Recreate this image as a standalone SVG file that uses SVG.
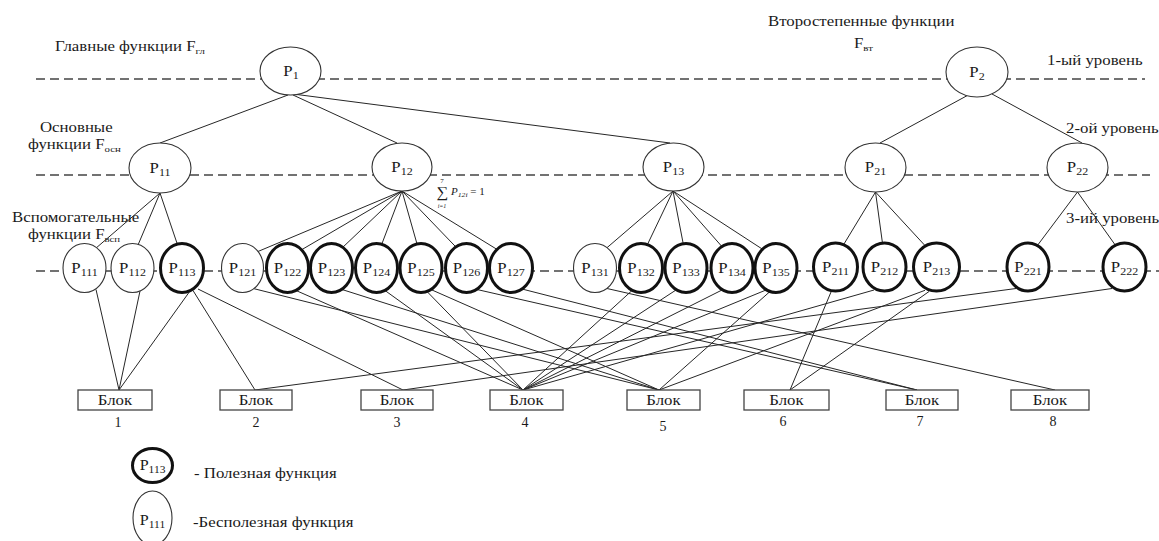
<svg xmlns="http://www.w3.org/2000/svg" width="1159" height="541" viewBox="0 0 1159 541">
<style>
  text { font-family: "Liberation Serif", "Times New Roman", serif; fill: #1a1a1a; }
  .lvl { stroke: #444; stroke-width: 1.3; stroke-dasharray: 9 5; fill: none; }
  .edge { stroke: #262626; stroke-width: 1; fill: none; }
  .n { fill: #fff; stroke: #333; stroke-width: 1.1; }
  .u { fill: #fff; stroke: #111; stroke-width: 3; }
  .lbl { font-size: 14px; text-anchor: middle; }
  .sub { font-size: 10px; }
  .cap { font-size: 14px; }
  .fsub { font-size: 9px; }
  .blk { fill: #fff; stroke: #444; stroke-width: 1.3; }
  .bt { font-size: 14px; text-anchor: middle; }
  .num { font-size: 14px; text-anchor: middle; }
  .math { font-size: 10px; font-style: italic; }
</style>

<!-- level separators -->
<g id="levels">
  <line class="lvl" x1="36" y1="79" x2="1145" y2="79"/>
  <line class="lvl" x1="36" y1="175" x2="1150" y2="175"/>
  <line class="lvl" x1="36" y1="271" x2="1159" y2="271"/>
</g>

<!-- captions -->
<g id="captions">
  <text class="cap" transform="translate(55,51) scale(1.2,1)">Главные функции F<tspan class="fsub" dy="3">гл</tspan></text>
  <text class="cap" transform="translate(768,26) scale(1.2,1)">Второстепенные функции</text>
  <text class="cap" transform="translate(854,48) scale(1.2,1)">F<tspan class="fsub" dy="3">вт</tspan></text>
  <text class="cap" transform="translate(1047,65) scale(1.2,1)">1-ый уровень</text>
  <text class="cap" transform="translate(1066,133) scale(1.2,1)">2-ой уровень</text>
  <text class="cap" transform="translate(1066,223) scale(1.2,1)">3-ий уровень</text>
  <text class="cap" transform="translate(40,132) scale(1.2,1)">Основные</text>
  <text class="cap" transform="translate(28,149) scale(1.2,1)">функции F<tspan class="fsub" dy="3">осн</tspan></text>
  <text class="cap" transform="translate(12,222) scale(1.2,1)">Вспомогательные</text>
  <text class="cap" transform="translate(28,239) scale(1.2,1)">функции F<tspan class="fsub" dy="3">всп</tspan></text>
</g>

<!-- connectors -->
<g id="connectors" class="edge">
  <!-- level 1 to level 2 -->
  <line x1="288" y1="95" x2="160" y2="143"/>
  <line x1="293" y1="95" x2="397" y2="143"/>
  <line x1="297" y1="94.5" x2="670" y2="143"/>
  <line x1="967" y1="95.7" x2="880" y2="143"/>
  <line x1="992" y1="94" x2="1082" y2="143"/>
  <!-- level 2 to level 3 -->
  <line x1="160" y1="193" x2="84.5" y2="258"/>
  <line x1="160" y1="193" x2="132.5" y2="258"/>
  <line x1="160" y1="193" x2="182" y2="258"/>
  <line x1="402" y1="191" x2="242.5" y2="258"/>
  <line x1="402" y1="191" x2="287.5" y2="258"/>
  <line x1="402" y1="191" x2="331.5" y2="258"/>
  <line x1="402" y1="191" x2="376.5" y2="258"/>
  <line x1="402" y1="191" x2="421" y2="258"/>
  <line x1="402" y1="191" x2="466.5" y2="258"/>
  <line x1="402" y1="191" x2="511" y2="258"/>
  <line x1="673" y1="191" x2="595" y2="258"/>
  <line x1="673" y1="191" x2="641" y2="258"/>
  <line x1="673" y1="191" x2="686" y2="258"/>
  <line x1="673" y1="191" x2="732" y2="258"/>
  <line x1="673" y1="191" x2="776" y2="258"/>
  <line x1="875.5" y1="192" x2="835.5" y2="258"/>
  <line x1="875.5" y1="192" x2="884.5" y2="258"/>
  <line x1="875.5" y1="192" x2="936.5" y2="258"/>
  <line x1="1077.5" y1="192" x2="1028" y2="258"/>
  <line x1="1077.5" y1="192" x2="1124.5" y2="258"/>
  <!-- level 3 to blocks -->
  <line x1="96" y1="289.5" x2="119" y2="390"/>
  <line x1="140" y1="291" x2="119" y2="390"/>
  <line x1="190" y1="291" x2="119" y2="390"/>
  <line x1="193" y1="290.5" x2="255" y2="390"/>
  <line x1="198" y1="289" x2="403" y2="390"/>
  <line x1="254" y1="288.7" x2="659" y2="390"/>
  <line x1="296" y1="290.5" x2="523" y2="390"/>
  <line x1="342" y1="289.5" x2="659" y2="390"/>
  <line x1="385" y1="290.5" x2="523" y2="390"/>
  <line x1="427" y1="291.5" x2="523" y2="390"/>
  <line x1="432" y1="290" x2="659" y2="390"/>
  <line x1="477" y1="289.5" x2="917" y2="390"/>
  <line x1="522" y1="289" x2="917" y2="390"/>
  <line x1="607" y1="288.5" x2="1055" y2="390"/>
  <line x1="632" y1="290.5" x2="523" y2="390"/>
  <line x1="676" y1="290" x2="523" y2="390"/>
  <line x1="722" y1="290" x2="523" y2="390"/>
  <line x1="766" y1="290" x2="523" y2="390"/>
  <line x1="770" y1="291.5" x2="659" y2="390"/>
  <line x1="831" y1="292" x2="790" y2="390"/>
  <line x1="874" y1="290" x2="523" y2="390"/>
  <line x1="925" y1="290.3" x2="659" y2="390"/>
  <line x1="929" y1="291.5" x2="790" y2="390"/>
  <line x1="1016" y1="288.5" x2="255" y2="390"/>
  <line x1="1112" y1="288.5" x2="403" y2="390"/>
</g>

<!-- level 1 -->
<g id="P1"><ellipse class="n" cx="290.5" cy="71" rx="30.5" ry="24"/><text class="lbl" transform="translate(291,76) scale(1.2,1)">P<tspan class="sub" dy="3">1</tspan></text></g>
<g id="P2"><ellipse class="n" cx="977" cy="72" rx="31" ry="25"/><text class="lbl" transform="translate(977,77) scale(1.2,1)">P<tspan class="sub" dy="3">2</tspan></text></g>

<!-- level 2 -->
<g id="P11"><ellipse class="n" cx="160" cy="168" rx="31" ry="25"/><text class="lbl" transform="translate(160,172.5) scale(1.2,1)">P<tspan class="sub" dy="3">11</tspan></text></g>
<g id="P12"><ellipse class="n" cx="402" cy="167" rx="30" ry="24"/><text class="lbl" transform="translate(402,171.5) scale(1.2,1)">P<tspan class="sub" dy="3">12</tspan></text></g>
<g id="P13"><ellipse class="n" cx="673.5" cy="167" rx="30.5" ry="24"/><text class="lbl" transform="translate(673.5,171.5) scale(1.2,1)">P<tspan class="sub" dy="3">13</tspan></text></g>
<g id="P21"><ellipse class="n" cx="875.5" cy="167.5" rx="30.5" ry="24.5"/><text class="lbl" transform="translate(875.5,172) scale(1.2,1)">P<tspan class="sub" dy="3">21</tspan></text></g>
<g id="P22"><ellipse class="n" cx="1077.5" cy="167.5" rx="30.5" ry="24.5"/><text class="lbl" transform="translate(1077.5,172) scale(1.2,1)">P<tspan class="sub" dy="3">22</tspan></text></g>

<!-- sum annotation near P12 -->
<g id="sum">
  <text transform="translate(442,197) scale(1.1,1)" style="font-size:15px;text-anchor:middle">∑</text>
  <text transform="translate(442,183)" style="font-size:7px;text-anchor:middle">7</text>
  <text transform="translate(442,208)" style="font-size:6px;text-anchor:middle;font-style:italic">i=1</text>
  <text class="math" transform="translate(451,195) scale(1.1,1)">P<tspan style="font-size:7px" dy="2">12i</tspan><tspan dy="-2" style="font-style:normal"> = 1</tspan></text>
</g>

<!-- level 3 -->
<g id="P111"><ellipse class="n" cx="84.5" cy="268" rx="21.5" ry="24.5"/><text class="lbl" transform="translate(84.5,272.5) scale(1.2,1)">P<tspan class="sub" dy="3">111</tspan></text></g>
<g id="P112"><ellipse class="n" cx="132.5" cy="268" rx="21.5" ry="24.5"/><text class="lbl" transform="translate(132.5,272.5) scale(1.2,1)">P<tspan class="sub" dy="3">112</tspan></text></g>
<g id="P113"><ellipse class="u" cx="182" cy="268" rx="21.5" ry="24.5"/><text class="lbl" transform="translate(182,272.5) scale(1.2,1)">P<tspan class="sub" dy="3">113</tspan></text></g>
<g id="P121"><ellipse class="n" cx="242.5" cy="268" rx="21" ry="24.5"/><text class="lbl" transform="translate(242.5,272.5) scale(1.2,1)">P<tspan class="sub" dy="3">121</tspan></text></g>
<g id="P122"><ellipse class="u" cx="287.5" cy="268" rx="21" ry="24.5"/><text class="lbl" transform="translate(287.5,272.5) scale(1.2,1)">P<tspan class="sub" dy="3">122</tspan></text></g>
<g id="P123"><ellipse class="u" cx="331.5" cy="268" rx="21" ry="24.5"/><text class="lbl" transform="translate(331.5,272.5) scale(1.2,1)">P<tspan class="sub" dy="3">123</tspan></text></g>
<g id="P124"><ellipse class="u" cx="376.5" cy="268" rx="21" ry="24.5"/><text class="lbl" transform="translate(376.5,272.5) scale(1.2,1)">P<tspan class="sub" dy="3">124</tspan></text></g>
<g id="P125"><ellipse class="u" cx="421" cy="268" rx="21" ry="24.5"/><text class="lbl" transform="translate(421,272.5) scale(1.2,1)">P<tspan class="sub" dy="3">125</tspan></text></g>
<g id="P126"><ellipse class="u" cx="466.5" cy="268" rx="21" ry="24.5"/><text class="lbl" transform="translate(466.5,272.5) scale(1.2,1)">P<tspan class="sub" dy="3">126</tspan></text></g>
<g id="P127"><ellipse class="u" cx="511" cy="268" rx="21.5" ry="24.5"/><text class="lbl" transform="translate(511,272.5) scale(1.2,1)">P<tspan class="sub" dy="3">127</tspan></text></g>
<g id="P131"><ellipse class="n" cx="595" cy="268" rx="21.5" ry="24.5"/><text class="lbl" transform="translate(595,272.5) scale(1.2,1)">P<tspan class="sub" dy="3">131</tspan></text></g>
<g id="P132"><ellipse class="u" cx="641" cy="268" rx="21.5" ry="24.5"/><text class="lbl" transform="translate(641,272.5) scale(1.2,1)">P<tspan class="sub" dy="3">132</tspan></text></g>
<g id="P133"><ellipse class="u" cx="686" cy="268" rx="21" ry="24.5"/><text class="lbl" transform="translate(686,272.5) scale(1.2,1)">P<tspan class="sub" dy="3">133</tspan></text></g>
<g id="P134"><ellipse class="u" cx="732" cy="268" rx="21" ry="24.5"/><text class="lbl" transform="translate(732,272.5) scale(1.2,1)">P<tspan class="sub" dy="3">134</tspan></text></g>
<g id="P135"><ellipse class="u" cx="776" cy="268" rx="21" ry="24.5"/><text class="lbl" transform="translate(776,272.5) scale(1.2,1)">P<tspan class="sub" dy="3">135</tspan></text></g>
<g id="P211"><ellipse class="u" cx="835.5" cy="267" rx="22" ry="24"/><text class="lbl" transform="translate(835.5,271.5) scale(1.2,1)">P<tspan class="sub" dy="3">211</tspan></text></g>
<g id="P212"><ellipse class="u" cx="884.5" cy="267" rx="21.5" ry="24"/><text class="lbl" transform="translate(884.5,271.5) scale(1.2,1)">P<tspan class="sub" dy="3">212</tspan></text></g>
<g id="P213"><ellipse class="u" cx="936.5" cy="267" rx="23" ry="24"/><text class="lbl" transform="translate(936.5,271.5) scale(1.2,1)">P<tspan class="sub" dy="3">213</tspan></text></g>
<g id="P221"><ellipse class="u" cx="1028" cy="267" rx="21" ry="24"/><text class="lbl" transform="translate(1028,271.5) scale(1.2,1)">P<tspan class="sub" dy="3">221</tspan></text></g>
<g id="P222"><ellipse class="u" cx="1124.5" cy="267" rx="21.5" ry="24"/><text class="lbl" transform="translate(1124.5,271.5) scale(1.2,1)">P<tspan class="sub" dy="3">222</tspan></text></g>

<!-- blocks -->
<g id="B1"><rect class="blk" x="78" y="390" width="74" height="20"/><text class="bt" transform="translate(115,404.5) scale(1.2,1)">Блок</text><text class="num" transform="translate(118,427)">1</text></g>
<g id="B2"><rect class="blk" x="220" y="390" width="72" height="20"/><text class="bt" transform="translate(256,404.5) scale(1.2,1)">Блок</text><text class="num" transform="translate(256,427)">2</text></g>
<g id="B3"><rect class="blk" x="361" y="390" width="72" height="20"/><text class="bt" transform="translate(397,404.5) scale(1.2,1)">Блок</text><text class="num" transform="translate(397,427)">3</text></g>
<g id="B4"><rect class="blk" x="490" y="390" width="73" height="20"/><text class="bt" transform="translate(526.5,404.5) scale(1.2,1)">Блок</text><text class="num" transform="translate(525,427)">4</text></g>
<g id="B5"><rect class="blk" x="627" y="390" width="73" height="20"/><text class="bt" transform="translate(663.5,404.5) scale(1.2,1)">Блок</text><text class="num" transform="translate(663,431)">5</text></g>
<g id="B6"><rect class="blk" x="744" y="390" width="85" height="20"/><text class="bt" transform="translate(786.5,404.5) scale(1.2,1)">Блок</text><text class="num" transform="translate(783,426)">6</text></g>
<g id="B7"><rect class="blk" x="886" y="390" width="72" height="20"/><text class="bt" transform="translate(922,404.5) scale(1.2,1)">Блок</text><text class="num" transform="translate(920,426)">7</text></g>
<g id="B8"><rect class="blk" x="1011" y="390" width="78" height="20"/><text class="bt" transform="translate(1050,404.5) scale(1.2,1)">Блок</text><text class="num" transform="translate(1053,426)">8</text></g>

<!-- legend -->
<g id="legend-useful"><ellipse class="u" cx="152.5" cy="465.5" rx="20" ry="17"/><text class="lbl" transform="translate(152.5,470) scale(1.15,1)">P<tspan class="sub" dy="3">113</tspan></text><text class="cap" transform="translate(194,478) scale(1.2,1)">- Полезная функция</text></g>
<g id="legend-useless"><ellipse class="n" cx="152.5" cy="518" rx="19.5" ry="27"/><text class="lbl" transform="translate(152.5,525) scale(1.15,1)">P<tspan class="sub" dy="3">111</tspan></text><text class="cap" transform="translate(193,527) scale(1.2,1)">-Бесполезная функция</text></g>
</svg>
